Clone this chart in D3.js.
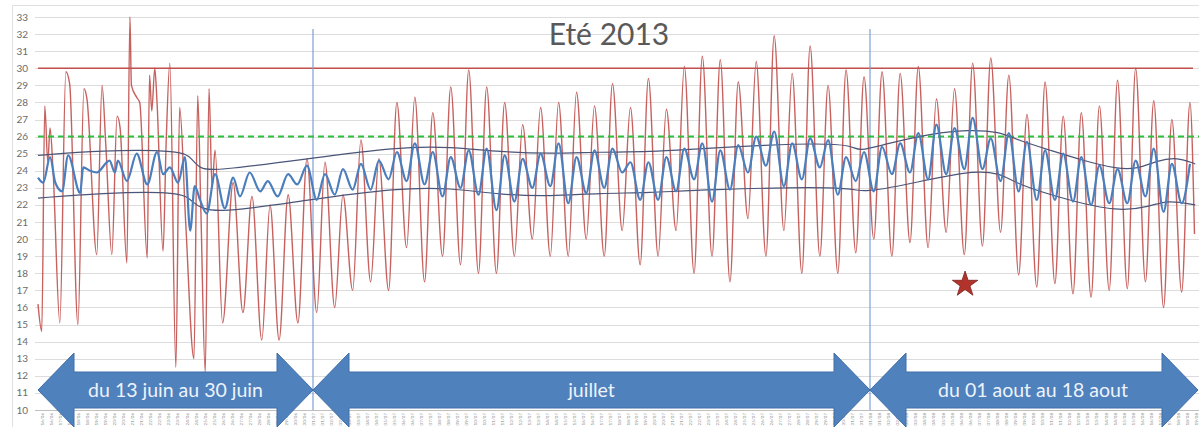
<!DOCTYPE html>
<html>
<head>
<meta charset="utf-8">
<script src="https://cdn.jsdelivr.net/npm/d3@7"></script>
<style>
body{margin:0;background:#fff;overflow:hidden}
text{font-family:Lato,"Open Sans",sans-serif}
</style>
</head>
<body>
<div id="chart"></div>
<script>
// ---- data ----
var title = "Eté 2013";
var yTicks = [10,11,12,13,14,15,16,17,18,19,20,21,22,23,24,25,26,27,28,29,30,31,32,33];

// outdoor temperature, june (irregular readings)
var juneOut = [["06-15 19",16.2],["06-16 00",14.6],["06-16 04",27.8],["06-16 08",24.5],["06-16 11",26.5],["06-16 15",24.0],
  ["06-17 00",15.1],["06-17 08",29.8],["06-17 13",29.1],["06-18 00",15.0],["06-18 08",28.8],["06-18 12",28.2],
  ["06-19 01",19.1],["06-19 08",29.0],["06-19 13",25.5],["06-19 21",19.1],["06-20 04",27.2],["06-20 08",26.5],
  ["06-20 17",18.6],["06-20 21",33.0],["06-20 23",29.0],["06-21 06",28.3],["06-21 10",28.0],["06-21 20",18.9],
  ["06-21 23",29.6],["06-22 02",27.5],["06-22 06",30.0],["06-22 09",28.0],["06-22 17",19.3],["06-22 21",25.5],
  ["06-23 02",30.3],["06-23 10",12.5],["06-23 15",27.7],["06-23 23",21.0],["06-24 10",13.0],["06-24 15",28.4],
  ["06-24 19",22.0],["06-25 01",12.2],["06-25 06",28.8],["06-25 10",23.0],["06-25 14",25.2],["06-26 00",15.1],
  ["06-26 14",23.3],["06-27 03",15.7],["06-27 15",22.5],["06-28 04",14.1],["06-28 15",22.0],["06-29 03",14.1],
  ["06-29 15",22.6],["06-30 04",15.1],["06-30 16",24.7]];
// outdoor daily min / max, 1 july -> 18 august
var outMin = [15.7,16.0,17.0,17.5,17.0,19.5,17.5,19.0,18.5,18.0,18.0,19.0,20.0,19.0,19.0,20.0,19.0,20.5,18.5,19.0,
  20.5,18.0,19.0,17.5,21.2,19.0,20.5,18.0,19.0,18.0,19.2,20.0,19.0,19.8,19.5,20.4,19.1,19.6,20.4,17.9,
  17.2,17.4,16.8,16.6,17.0,17.1,17.5,16.0,16.9];
var outMax = [24.5,22.6,25.8,24.7,28.0,28.3,27.4,28.9,29.9,28.9,28.0,26.7,27.7,28.0,28.6,27.8,29.1,27.7,29.4,27.6,
  30.1,30.7,30.5,29.2,30.4,31.9,29.7,31.3,29.0,29.9,29.5,29.8,29.7,30.1,28.2,28.8,30.3,30.6,29.6,27.3,
  29.2,27.2,27.4,27.8,29.3,30.0,28.1,27.0,28.0];
var outLast = ["08-18 22",20.3];

// indoor temperature
var juneIn = [["06-15 19",23.6],["06-16 02",23.3],["06-16 11",24.8],["06-16 18",23.3],["06-17 03",22.8],["06-17 11",24.9],
  ["06-18 03",22.7],["06-18 07",24.2],["06-18 16",24.0],["06-19 01",23.9],["06-19 18",24.6],["06-20 01",23.9],
  ["06-20 05",24.6],["06-20 17",23.4],["06-21 06",25.0],["06-21 20",23.2],["06-22 09",25.1],["06-22 17",23.8],
  ["06-23 02",24.2],["06-23 13",23.3],["06-23 22",24.8],["06-24 05",20.5],["06-24 11",23.1],["06-24 18",22.3],
  ["06-25 03",21.5],["06-25 14",23.8],["06-26 03",21.8],["06-26 14",23.6],["06-26 23",22.5],["06-27 12",23.9],
  ["06-28 02",22.8],["06-28 12",23.4],["06-29 01",22.5],["06-29 15",23.8],["06-30 03",23.2],["06-30 16",24.3]];
var inMin = [22.3,22.6,22.9,22.9,23.5,23.4,23.2,22.5,23.0,22.6,21.7,22.2,23.0,23.1,22.1,22.7,23.0,23.9,22.3,22.3,
  22.8,23.5,22.2,22.9,23.9,24.3,23.1,23.5,24.2,22.6,23.4,22.8,23.8,23.9,23.5,23.8,24.1,24.1,23.4,22.8,
  22.3,22.3,22.2,22.0,22.1,22.1,22.5,21.6,22.1];
var inMax = [23.8,24.1,24.4,24.6,25.1,25.6,25.1,24.8,25.2,25.3,24.9,24.7,25.0,25.6,24.8,25.2,25.3,24.5,24.5,24.8,
  25.3,25.6,25.2,25.5,26.0,26.3,25.6,25.9,25.8,24.8,25.1,25.4,25.6,26.2,26.7,26.5,27.1,25.9,26.2,25.7,
  25.2,25.0,24.8,24.3,24.1,24.6,25.3,24.4,24.4];

// comfort band (upper / lower envelope)
var bandUpper = [["06-15 19",24.9],["06-19 05",25.2],["06-23 19",25.2],["06-24 07",24.7],["06-24 18",24.1],["06-25 14",24.0],
  ["06-30 17",24.7],["07-05 18",25.4],["07-08 15",25.4],["07-11 10",25.1],["07-14 05",25.0],["07-16 23",25.1],
  ["07-19 18",25.1],["07-22 13",25.3],["07-26 06",25.5],["07-29 01",25.6],["07-31 01",25.5],["07-31 08",25.1],
  ["08-01 23",25.6],["08-04 12",26.2],["08-06 09",26.4],["08-08 04",26.3],["08-09 03",25.8],["08-10 23",25.2],
  ["08-12 18",24.6],["08-14 16",24.1],["08-15 18",24.1],["08-16 21",24.6],["08-17 23",24.8],["08-18 23",24.4]];
var bandLower = [["06-15 19",22.4],["06-19 05",22.7],["06-23 19",22.8],["06-24 07",22.2],["06-25 07",21.4],["06-30 16",22.3],
  ["07-05 18",23.0],["07-08 15",23.0],["07-11 10",22.6],["07-14 05",22.5],["07-16 23",22.7],["07-19 18",22.7],
  ["07-22 13",22.9],["07-31 01",23.1],["07-31 08",22.7],["08-02 16",23.1],["08-06 09",24.0],["08-08 04",23.9],
  ["08-09 03",23.2],["08-11 21",22.3],["08-14 16",21.6],["08-16 11",21.9],["08-17 10",22.3],["08-18 23",22.0]];

var maxLimit = 30, comfortLimit = 26;
var periodEdges = ["06-15 19","07-01 00","08-01 00","08-19 00"];
var periodLabels = ["du 13 juin au 30 juin","juillet","du 01 aout au 18 aout"];
var starPoint = ["08-06 06",17.35];

// ---- drawing ----
var width = 1199, height = 427;
var parse = d3.timeParse("%Y-%m-%d %H");
function at(s){ return parse("2013-" + s); }
var minHour = 5, maxHour = 16;

var svg = d3.select("#chart").append("svg")
	.attr("width",width)
	.attr("height",height);

var x = d3.scaleTime()
	.domain(periodEdges.map(at))
	.range([38,313,870,1196]);
var y = d3.scaleLinear().domain([10,33]).range([410,17]);

function daily(june, mins, maxs, last){
	var pts = june.map(function(p){ return {t:at(p[0]), v:p[1]}; });
	var jul1 = at("07-01 00");
	mins.forEach(function(v,i){
		var day = d3.timeDay.offset(jul1,i);
		pts.push({t:d3.timeHour.offset(day,minHour), v:v});
		pts.push({t:d3.timeHour.offset(day,maxHour), v:maxs[i]});
	});
	if(last) pts.push({t:at(last[0]), v:last[1]});
	return pts;
}
var outdoor = daily(juneOut,outMin,outMax,outLast);
var indoor = daily(juneIn,inMin,inMax,null);

// frame
svg.append("rect")
	.attr("x",12.5).attr("y",5.5)
	.attr("width",1200).attr("height",440)
	.attr("fill","none").attr("stroke","#e0e0e0");

// grid
svg.selectAll(".grid").data(yTicks).enter().append("line")
	.attr("class","grid")
	.attr("x1",35).attr("x2",width)
	.attr("y1",function(d){return Math.round(y(d))+0.5;})
	.attr("y2",function(d){return Math.round(y(d))+0.5;})
	.attr("stroke",function(d){return d==10 ? "#bfbfbf" : "#dcdcdc";})
	.attr("stroke-width",1);

svg.selectAll(".ylab").data(yTicks).enter().append("text")
	.attr("class","ylab")
	.attr("x",28).attr("y",function(d){return y(d);})
	.attr("dy","0.35em")
	.attr("text-anchor","end")
	.attr("font-size",10)
	.attr("fill","#6b6b6b")
	.text(function(d){return d;});

// bottom date labels (one every 12 h, vertical)
var xAxis = d3.axisBottom(x)
	.ticks(d3.timeHour.every(12))
	.tickSize(0)
	.tickFormat(d3.timeFormat("%d/%m"));
var gx = svg.append("g").attr("transform","translate(0,410)").call(xAxis);
gx.select(".domain").remove();
gx.selectAll(".tick text")
	.attr("font-size",4.5)
	.attr("fill","#8a8a8a")
	.attr("text-anchor","end")
	.attr("transform","rotate(-90)")
	.attr("x",-3).attr("y",0).attr("dy","0.35em");

// reference lines
svg.append("line")
	.attr("x1",x(at(periodEdges[0]))).attr("x2",x(at("08-18 20")))
	.attr("y1",y(maxLimit)).attr("y2",y(maxLimit))
	.attr("stroke","#c0504d").attr("stroke-width",1.6);

svg.selectAll(".sep").data(periodEdges.slice(1,3)).enter().append("line")
	.attr("class","sep")
	.attr("x1",function(d){return x(at(d));}).attr("x2",function(d){return x(at(d));})
	.attr("y1",y(32.3)).attr("y2",y(10))
	.attr("stroke","#7f9fd4").attr("stroke-width",1.2);

// outdoor
var line = d3.line()
	.x(function(d){return x(d.t);})
	.y(function(d){return y(d.v);});

svg.append("path")
	.datum(outdoor)
	.attr("d",line.curve(d3.curveMonotoneX))
	.attr("fill","none")
	.attr("stroke","#c0504d")
	.attr("stroke-width",1.4)
	.attr("stroke-opacity",0.9);

// comfort threshold
svg.append("line")
	.attr("x1",x(at(periodEdges[0]))).attr("x2",width)
	.attr("y1",y(comfortLimit)).attr("y2",y(comfortLimit))
	.attr("stroke","#2fbf3a").attr("stroke-width",2)
	.attr("stroke-dasharray","6,4");

// envelope
[bandUpper,bandLower].forEach(function(b){
	svg.append("path")
		.datum(b.map(function(p){return {t:at(p[0]), v:p[1]};}))
		.attr("d",d3.line().x(function(d){return x(d.t);}).y(function(d){return y(d.v);}).curve(d3.curveBasis))
		.attr("fill","none")
		.attr("stroke","#4b5577")
		.attr("stroke-width",1.2);
});

// indoor
svg.append("path")
	.datum(indoor)
	.attr("d",d3.line().x(function(d){return x(d.t);}).y(function(d){return y(d.v);}).curve(d3.curveMonotoneX))
	.attr("fill","none")
	.attr("stroke","#4a7ebd")
	.attr("stroke-width",2.2);

// title
svg.append("text")
	.attr("x",609).attr("y",45)
	.attr("text-anchor","middle")
	.attr("font-size",30)
	.attr("fill","#595959")
	.text(title);

// star
svg.append("path")
	.attr("d",d3.symbol().type(d3.symbolStar).size(200))
	.attr("transform","translate(" + x(at(starPoint[0])) + "," + y(starPoint[1]) + ")")
	.attr("fill","#b2332c")
	.attr("stroke","#7c1f19")
	.attr("stroke-width",0.8);

// period arrows
var cy = 390, hl = 36, hh = 37, sh = 18;
function arrowPath(x0,x1){
	return "M" + x0 + "," + cy +
		"L" + (x0+hl) + "," + (cy-hh) + "L" + (x0+hl) + "," + (cy-sh) +
		"L" + (x1-hl) + "," + (cy-sh) + "L" + (x1-hl) + "," + (cy-hh) +
		"L" + x1 + "," + cy +
		"L" + (x1-hl) + "," + (cy+hh) + "L" + (x1-hl) + "," + (cy+sh) +
		"L" + (x0+hl) + "," + (cy+sh) + "L" + (x0+hl) + "," + (cy+hh) + "Z";
}
var arrows = svg.selectAll(".period").data(periodLabels).enter().append("g").attr("class","period");
arrows.append("path")
	.attr("d",function(d,i){
		var x0 = x(at(periodEdges[i])), x1 = x(at(periodEdges[i+1]));
		if(i==periodLabels.length-1) x1 += 2;
		return arrowPath(x0,x1);
	})
	.attr("fill","#4f81bd")
	.attr("stroke","#3f6ea8")
	.attr("stroke-width",1);
arrows.append("text")
	.attr("x",function(d,i){ return (x(at(periodEdges[i])) + x(at(periodEdges[i+1])))/2; })
	.attr("y",cy)
	.attr("dy","0.35em")
	.attr("text-anchor","middle")
	.attr("font-size",19.5)
	.attr("fill","#eef3fa")
	.text(function(d){return d;});
</script>
</body>
</html>
